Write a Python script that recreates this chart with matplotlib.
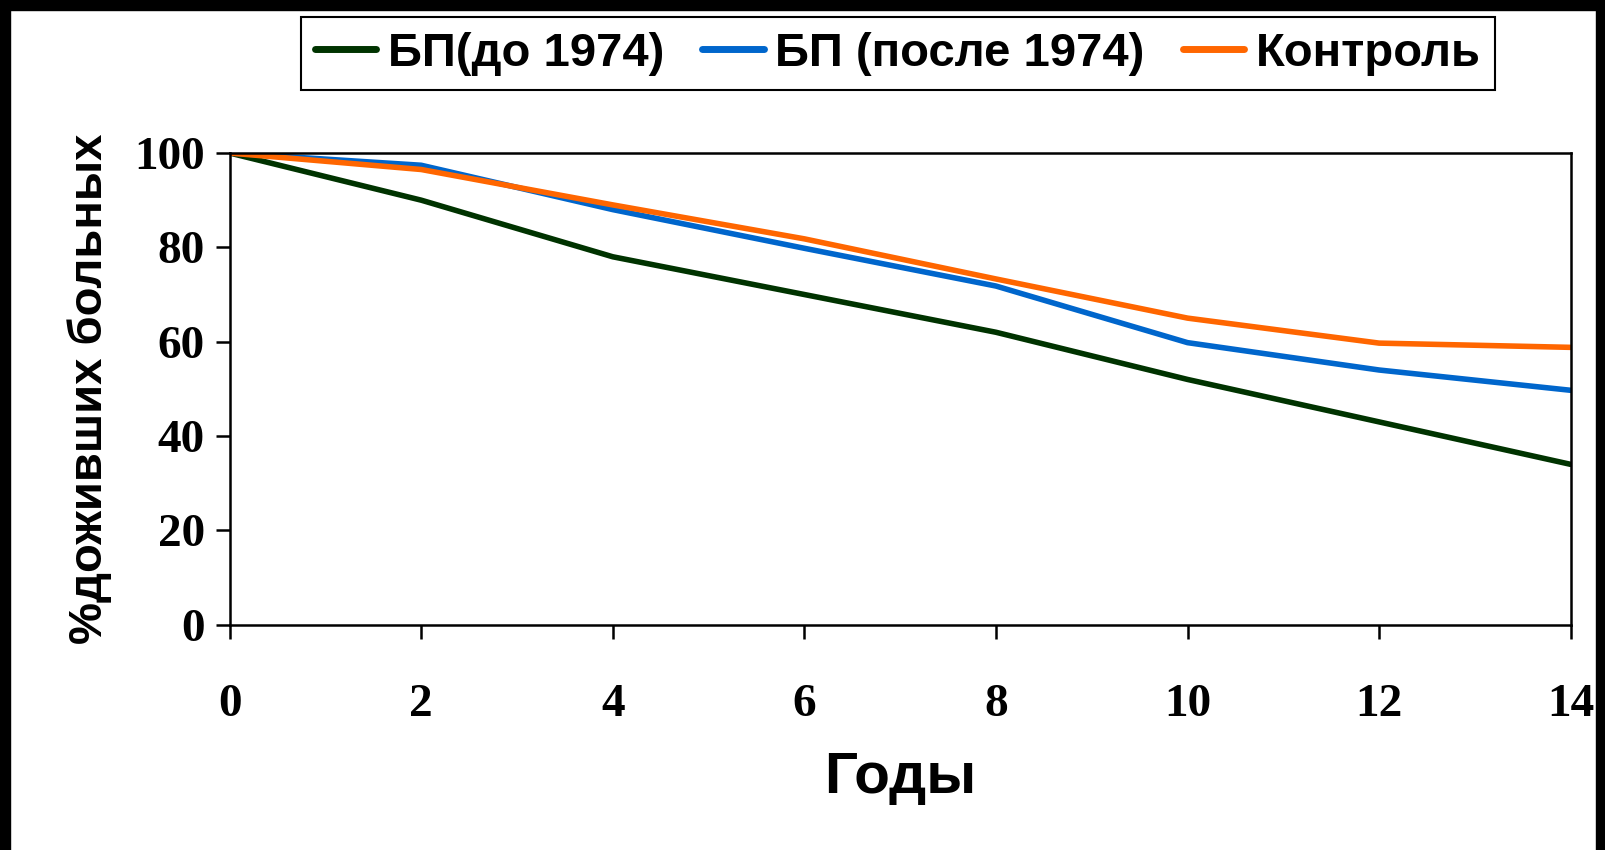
import matplotlib
matplotlib.use('Agg')
import matplotlib.pyplot as plt
from matplotlib.patches import Rectangle

# data
years = [0, 2, 4, 6, 8, 10, 12, 14]
bp_before = [100, 90, 78, 70, 62, 52, 43, 34]
bp_after = [100, 97.4, 88, 79.8, 71.8, 59.8, 54, 49.7]
control = [100, 96.5, 89, 81.8, 73.3, 65, 59.7, 58.8]
labels = ['БП(до 1974)', 'БП (после 1974)', 'Контроль']
colors = ['#003300', '#0066cc', '#ff6600']

fig = plt.figure(figsize=(16.06, 8.5), dpi=100)
ax = fig.add_axes([0.143, 0.265, 0.835, 0.555])

for ys, lab, c in zip([bp_before, bp_after, control], labels, colors):
    ax.plot(years, ys, color=c, lw=4, label=lab, solid_capstyle='round')

ax.set_xlim(0, 14)
ax.set_ylim(0, 100)
ax.set_xticks(years)
ax.set_yticks(range(0, 101, 20))
for s in ax.spines.values():
    s.set_linewidth(1.8)
ax.tick_params(direction='out', length=10, width=1.8)
ax.tick_params(axis='x', pad=33)
ax.tick_params(axis='y', pad=8)
for t in ax.get_xticklabels() + ax.get_yticklabels():
    t.set_fontfamily('Liberation Serif')
    t.set_fontweight('bold')
    t.set_fontsize(34)

ax.set_ylabel('%доживших больных', family='Liberation Sans', fontweight='bold',
              fontsize=34, labelpad=16)
ax.set_xlabel('Годы', family='Liberation Sans', fontweight='bold', fontsize=42, labelpad=18)

leg = fig.legend(loc='center', bbox_to_anchor=(0.559, 0.937), ncol=3,
                 prop={'family': 'Liberation Sans', 'weight': 'bold', 'size': 34},
                 handlelength=1.3, handletextpad=0.25, columnspacing=0.8,
                 fancybox=False, edgecolor='black', framealpha=1,
                 borderpad=0.3, shadow=False)
leg.get_frame().set_linewidth(1.5)
for h in leg.get_lines():
    h.set_linewidth(5)

# black border bands of the slide
for r in [(0, 0.988, 1, 0.012), (0, 0, 0.0065, 1), (0.9935, 0, 0.0065, 1)]:
    fig.patches.append(Rectangle(r[:2], r[2], r[3], transform=fig.transFigure,
                                 color='black', zorder=10))

fig.savefig('out.png', dpi=100)
